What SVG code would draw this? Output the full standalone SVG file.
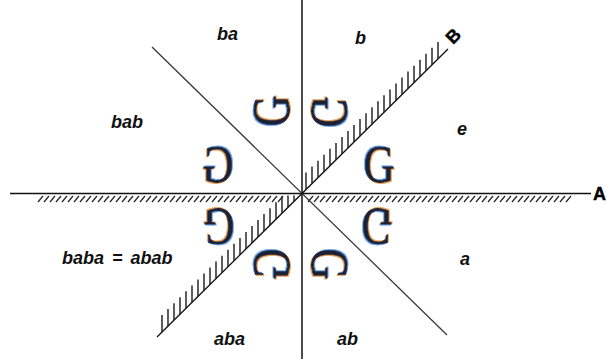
<svg xmlns="http://www.w3.org/2000/svg" width="606" height="359" viewBox="0 0 606 359">
  <defs>
    <style>
      .axis { stroke: #111; stroke-width: 1.5; fill: none; }
      .diag { stroke: #3a3a3a; stroke-width: 1.3; fill: none; }
      .hatch { stroke: #2a2a2a; stroke-width: 1.3; fill: none; }
      .tick { stroke: #1a1a1a; stroke-width: 1.4; fill: none; }
      .lbl { font-family: "Liberation Sans", Arial, sans-serif; font-weight: bold; font-style: italic; font-size: 18px; fill: #111; }
      .axl { font-family: "Liberation Sans", Arial, sans-serif; font-weight: 700; font-size: 18px; fill: #000; stroke: #000; stroke-width: 0.4; }
      .g { font-family: "Liberation Serif", "Times New Roman", serif; font-size: 43px; fill: #1b2236; stroke: #1b2236; stroke-width: 0.6; text-anchor: middle; filter: url(#fringe); }
    </style>
    <filter id="fringe" x="-20%" y="-20%" width="140%" height="140%">
      <feFlood flood-color="#4a8fe0" flood-opacity="0.8" result="blue"/>
      <feComposite in="blue" in2="SourceAlpha" operator="in" result="b1"/>
      <feOffset in="b1" dx="-1" dy="-1" result="b2"/>
      <feFlood flood-color="#d9892e" flood-opacity="0.8" result="orange"/>
      <feComposite in="orange" in2="SourceAlpha" operator="in" result="o1"/>
      <feOffset in="o1" dx="1" dy="1" result="o2"/>
      <feMerge>
        <feMergeNode in="b2"/>
        <feMergeNode in="o2"/>
        <feMergeNode in="SourceGraphic"/>
      </feMerge>
    </filter>
  </defs>
  <rect width="606" height="359" fill="#fff"/>

  <g id="connectors">
    <line id="lineA" class="axis" x1="10" y1="193.5" x2="591" y2="193.5"/>
    <line id="lineV" class="axis" x1="302" y1="0" x2="302" y2="359"/>
    <line id="lineD" class="diag" x1="152" y1="47" x2="447" y2="335"/>
    <line id="lineB" class="axis" x1="157" y1="337" x2="448" y2="49" style="stroke-width:1.3"/>
    <path id="hatchA" class="hatch" d="M38 202l5-6M44 202l5-6M50 202l5-6M56 202l5-6M62 202l5-6M68 202l5-6M74 202l5-6M80 202l5-6M86 202l5-6M92 202l5-6M98 202l5-6M104 202l5-6M110 202l5-6M116 202l5-6M122 202l5-6M128 202l5-6M134 202l5-6M140 202l5-6M146 202l5-6M152 202l5-6M158 202l5-6M164 202l5-6M170 202l5-6M176 202l5-6M182 202l5-6M188 202l5-6M194 202l5-6M200 202l5-6M206 202l5-6M212 202l5-6M218 202l5-6M224 202l5-6M230 202l5-6M236 202l5-6M242 202l5-6M248 202l5-6M254 202l5-6M260 202l5-6M266 202l5-6M272 202l5-6M278 202l5-6M308 202l5-6M314 202l5-6M320 202l5-6M326 202l5-6M332 202l5-6M338 202l5-6M344 202l5-6M350 202l5-6M356 202l5-6M362 202l5-6M368 202l5-6M374 202l5-6M380 202l5-6M386 202l5-6M392 202l5-6M398 202l5-6M404 202l5-6M410 202l5-6M416 202l5-6M422 202l5-6M428 202l5-6M434 202l5-6M440 202l5-6M446 202l5-6M452 202l5-6M458 202l5-6M464 202l5-6M470 202l5-6M476 202l5-6M482 202l5-6M488 202l5-6M494 202l5-6M500 202l5-6M506 202l5-6M512 202l5-6M518 202l5-6M524 202l5-6M530 202l5-6M536 202l5-6M542 202l5-6M548 202l5-6M554 202l5-6M560 202l5-6M566 202l5-6"/>
    <path id="hatchB" class="tick" d="M306 189.5v-17M312 183.6v-17M318 177.7v-17M324 171.7v-17M330 165.8v-17M336 159.9v-17M342 153.9v-17M348 148v-17M354 142v-17M360 136.1v-17M366 130.2v-17M372 124.2v-17M378 118.3v-17M384 112.3v-17M390 106.4v-17M396 100.5v-17M402 94.5v-17M408 88.6v-17M414 82.7v-17M420 76.7v-17M426 70.8v-17M432 64.8v-17M438 58.9v-17M162 332v-17M168 326.1v-17M174 320.2v-17M180 314.2v-17M186 308.3v-17M192 302.4v-17M198 296.4v-17M204 290.5v-17M210 284.6v-17M216 278.6v-17M222 272.7v-17M228 266.7v-17M234 260.8v-17M240 254.9v-17M246 248.9v-17M252 243v-17M258 237v-17M264 231.1v-17M270 225.2v-17M276 219.2v-17M282 213.3v-17M288 207.4v-12M294 201.4v-6"/>
  </g>

  <g id="glyphs">
    <g id="g-e" transform="translate(379,164) scale(1,1.25)"><text class="g" x="0" y="14">G</text></g>
    <g id="g-b" transform="translate(330,112) matrix(0,-1,-1,0,0,0) scale(1,1.25)"><text class="g" x="0" y="14">G</text></g>
    <g id="g-ba" transform="translate(271,111) rotate(-90) scale(1,1.25)"><text class="g" x="0" y="14">G</text></g>
    <g id="g-bab" transform="translate(218,164) scale(-1,1.25)"><text class="g" x="0" y="14">G</text></g>
    <g id="g-baba" transform="translate(219,227) rotate(180) scale(1,1.25)"><text class="g" x="0" y="14">G</text></g>
    <g id="g-aba" transform="translate(271,264) matrix(0,1,1,0,0,0) scale(1,1.25)"><text class="g" x="0" y="14">G</text></g>
    <g id="g-ab" transform="translate(330,264) rotate(90) scale(1,1.25)"><text class="g" x="0" y="14">G</text></g>
    <g id="g-a" transform="translate(377,227) scale(1,-1.25)"><text class="g" x="0" y="14">G</text></g>
  </g>

  <g id="labels">
    <text class="lbl" x="217" y="40">ba</text>
    <text class="lbl" x="355" y="44">b</text>
    <text class="lbl" x="111" y="128">bab</text>
    <text class="lbl" x="457" y="135">e</text>
    <text class="lbl" x="62" y="264" word-spacing="3">baba = abab</text>
    <text class="lbl" x="460" y="265">a</text>
    <text class="lbl" x="214" y="345">aba</text>
    <text class="lbl" x="337" y="345">ab</text>
    <text class="axl" x="593" y="200">A</text>
    <text class="axl" transform="translate(453,45) rotate(-45)" x="0" y="0">B</text>
  </g>
</svg>
